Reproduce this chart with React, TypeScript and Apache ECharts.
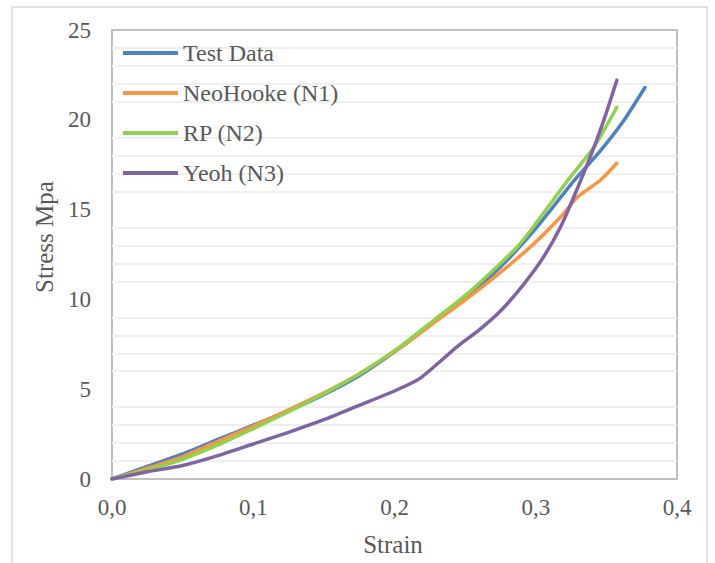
import React, { useEffect, useRef } from "react";
import * as echarts from "echarts";

const seriesNames = ["Test Data", "NeoHooke (N1)", "RP (N2)", "Yeoh (N3)"];
const colors = ["#4F81BD", "#F79646", "#92D050", "#8064A2"];

const testStrain = [0, 0.025, 0.05, 0.075, 0.1, 0.125, 0.15, 0.175, 0.204, 0.228, 0.252, 0.275, 0.299, 0.327, 0.346, 0.3626, 0.3773];
const testStress = [0, 0.7, 1.4, 2.2, 3.0, 3.8, 4.7, 5.75, 7.3, 8.75, 10.2, 11.8, 13.86, 16.6, 18.3, 19.99, 21.8];

const neoStrain = [0, 0.025, 0.05, 0.075, 0.1, 0.125, 0.15, 0.175, 0.204, 0.228, 0.2516, 0.275, 0.299, 0.3177, 0.3296, 0.346, 0.3574];
const neoStress = [0, 0.6, 1.25, 2.1, 2.95, 3.85, 4.8, 5.85, 7.3, 8.7, 10.06, 11.5, 13.12, 14.6, 15.7, 16.65, 17.58];

const rpStrain = [0, 0.025, 0.05, 0.075, 0.1, 0.125, 0.15, 0.175, 0.204, 0.228, 0.252, 0.275, 0.287, 0.2965, 0.3224, 0.3414, 0.3574];
const rpStress = [0, 0.5, 1.1, 1.9, 2.8, 3.75, 4.75, 5.85, 7.37, 8.85, 10.34, 12.0, 12.93, 13.85, 16.6, 18.5, 20.7];

const yeohStrain = [0, 0.025, 0.05, 0.075, 0.1, 0.125, 0.15, 0.175, 0.2, 0.218, 0.2444, 0.26, 0.275, 0.29, 0.305, 0.318, 0.3296, 0.3414, 0.35, 0.3574];
const yeohStress = [0, 0.4, 0.75, 1.3, 1.95, 2.6, 3.3, 4.1, 4.9, 5.6, 7.37, 8.3, 9.35, 10.7, 12.3, 14.1, 16.2, 18.5, 20.4, 22.2];

const xTicks = [0, 0.1, 0.2, 0.3, 0.4];
const yTicks = [0, 5, 10, 15, 20, 25];

const strains = [testStrain, neoStrain, rpStrain, yeohStrain];
const stresses = [testStress, neoStress, rpStress, yeohStress];

const FONT = "'Liberation Serif', 'Times New Roman', serif";
const TEXT = "#595959";

export default function App() {
  const ref = useRef<HTMLDivElement>(null);
  useEffect(() => {
    if (!ref.current) return;
    const chart = echarts.init(ref.current, undefined, { renderer: "svg" });
    const series = seriesNames.map((name, i) => ({
      name,
      type: "line",
      data: strains[i].map((x, j) => [x, stresses[i][j]]),
      showSymbol: false,
      symbol: "none",
      smooth: 0.2,
      lineStyle: { color: colors[i], width: 3.5, cap: "round", join: "round" },
      itemStyle: { color: colors[i] },
      z: 2 + i,
    }));
    chart.setOption({
      animation: false,
      backgroundColor: "#ffffff",
      textStyle: { fontFamily: FONT },
      grid: {
        left: 112,
        right: 38,
        top: 30,
        bottom: 84,
        show: true,
        borderColor: "#bfbfbf",
        borderWidth: 2,
        backgroundColor: "transparent",
      },
      legend: {
        show: true,
        orient: "vertical",
        left: 118,
        top: 36,
        itemWidth: 55,
        itemHeight: 4,
        itemGap: 16,
        icon: "rect",
        data: seriesNames,
        textStyle: { fontFamily: FONT, fontSize: 24, color: TEXT },
      },
      xAxis: {
        type: "value",
        min: xTicks[0],
        max: xTicks[xTicks.length - 1],
        interval: 0.1,
        axisLine: { show: false },
        axisTick: { show: false },
        splitLine: { show: false },
        axisLabel: {
          margin: 17,
          fontFamily: FONT,
          fontSize: 23,
          color: TEXT,
          formatter: (v: number) => v.toFixed(1).replace(".", ","),
        },
      },
      yAxis: {
        type: "value",
        min: yTicks[0],
        max: yTicks[yTicks.length - 1],
        interval: 5,
        axisLine: { show: false },
        axisTick: { show: false },
        splitLine: { show: false },
        minorTick: { show: false, splitNumber: 5 },
        minorSplitLine: { show: true, lineStyle: { color: "#efefef", width: 2 } },
        axisLabel: {
          margin: 21,
          fontFamily: FONT,
          fontSize: 23,
          color: TEXT,
        },
      },
      graphic: [
        {
          type: "rect",
          shape: { x: 12, y: 7, width: 695, height: 600 },
          style: { fill: "none", stroke: "#d9d9d9", lineWidth: 1.5 },
          z: -10,
          silent: true,
        },
        {
          type: "text",
          x: 44,
          y: 237,
          rotation: Math.PI / 2,
          style: {
            text: "Stress Mpa",
            font: `25px ${FONT}`,
            fill: TEXT,
            align: "center",
            verticalAlign: "middle",
          },
        },
        {
          type: "text",
          x: 393,
          y: 544,
          style: {
            text: "Strain",
            font: `25px ${FONT}`,
            fill: TEXT,
            align: "center",
            verticalAlign: "middle",
          },
        },
      ],
      series,
    });
    return () => chart.dispose();
  }, []);
  return (
    <div
      ref={ref}
      style={{ position: "fixed", left: 0, top: 0, width: 715, height: 563 }}
    />
  );
}
